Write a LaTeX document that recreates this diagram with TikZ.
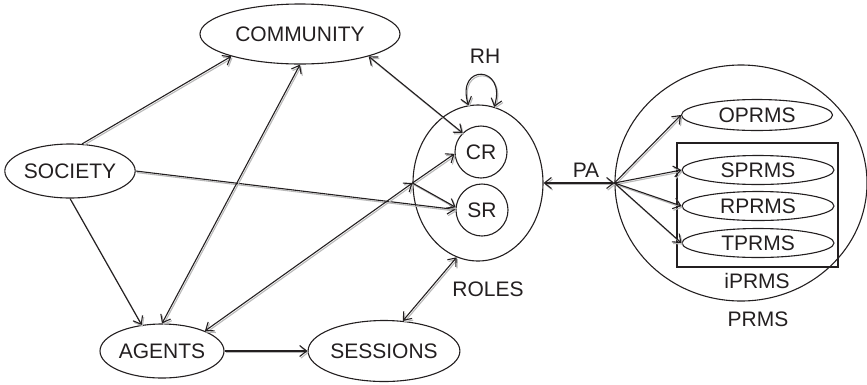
\documentclass[tikz,border=0pt]{standalone}
\usepackage{fontspec}
\setmainfont{Liberation Sans}
\usetikzlibrary{shapes.geometric,arrows.meta,calc}
\definecolor{ink}{RGB}{35,31,32}
\definecolor{shade}{RGB}{185,185,185}
\begin{document}
\begin{tikzpicture}[x=1pt,y=-1pt,
  barb/.tip={Straight Barb[length=7pt,width=11pt]},
  every node/.style={font=\fontsize{21}{25}\selectfont, text=ink, inner sep=0pt},
  oval/.style={draw=ink, line width=1.1pt, ellipse},
  ring/.style={draw=ink, line width=1.1pt, circle, minimum size=52pt},
  link/.style={draw=ink, line width=1.1pt, -barb,
    preaction={draw=shade, line width=1.1pt,
      transform canvas={shift={(1.2pt,-1.6pt)}}}},
  both/.style={link, barb-barb}]
\useasboundingbox (0,0) rectangle (867,384);

% entities
\node[oval, minimum width=200pt, minimum height=60pt] (comm) at (300,34) {COMMUNITY};
\node[oval, minimum width=124pt, minimum height=54pt] (soc) at (70,171) {SOCIETY};
\node[oval, minimum width=124pt, minimum height=54pt] (agents) at (162,351) {AGENTS};
\node[oval, minimum width=146pt, minimum height=61pt] (sess) at (384,351) {SESSIONS};

% roles
\node[oval, minimum width=130pt, minimum height=156pt] (roles) at (478,183) {};
\node[ring] (cr) at (481,152) {CR};
\node[ring] (sr) at (482,210) {SR};
\node (roleslbl) at (488,289) {ROLES};
\node (rh) at (485,56) {RH};

% permission sets
\node[oval, minimum width=252pt, minimum height=236pt] (prms) at (741,183) {};
\node (prmslbl) at (758,319) {PRMS};
\node[oval, minimum width=151pt, minimum height=31pt] (oprms) at (757,115) {OPRMS};
\node[draw=ink, line width=1.1pt, minimum width=161pt, minimum height=124pt] (ibox) at (757.5,205) {};
\node[oval, minimum width=152pt, minimum height=29pt] (sprms) at (758,170) {SPRMS};
\node[oval, minimum width=152pt, minimum height=29pt] (rprms) at (758,206) {RPRMS};
\node[oval, minimum width=152pt, minimum height=29pt] (tprms) at (758,243) {TPRMS};
\node (iprmslbl) at (757,281) {iPRMS};
\node (pa) at (586,170) {PA};

% relations
\draw[link] (soc.66) -- (comm.-162);
\draw[link] (soc.south) -- (agents.128);
\draw[link] (soc.east) -- (sr.179);
\draw[both] (agents.north) -- (comm.south);
\draw[both] (comm.-18) -- (cr.134);
\draw[both] (agents.25) -- (roles.west);
\draw[link] (roles.west) -- (cr.184);
\draw[link] (roles.west) -- (sr.174);
\draw[link] (agents.east) -- (sess.west);
\draw[both] (sess.58) -- (roles.-106);
\draw[both] (roles.97) .. controls +(-13,-42) and +(13,-42) .. (roles.78);
\draw[both] (roles.east) -- (prms.west);
\draw[link] (prms.west) -- (oprms.west);
\draw[link] (prms.west) -- (sprms.west);
\draw[link] (prms.west) -- (rprms.west);
\draw[link] (prms.west) -- (tprms.west);
\end{tikzpicture}
\end{document}
